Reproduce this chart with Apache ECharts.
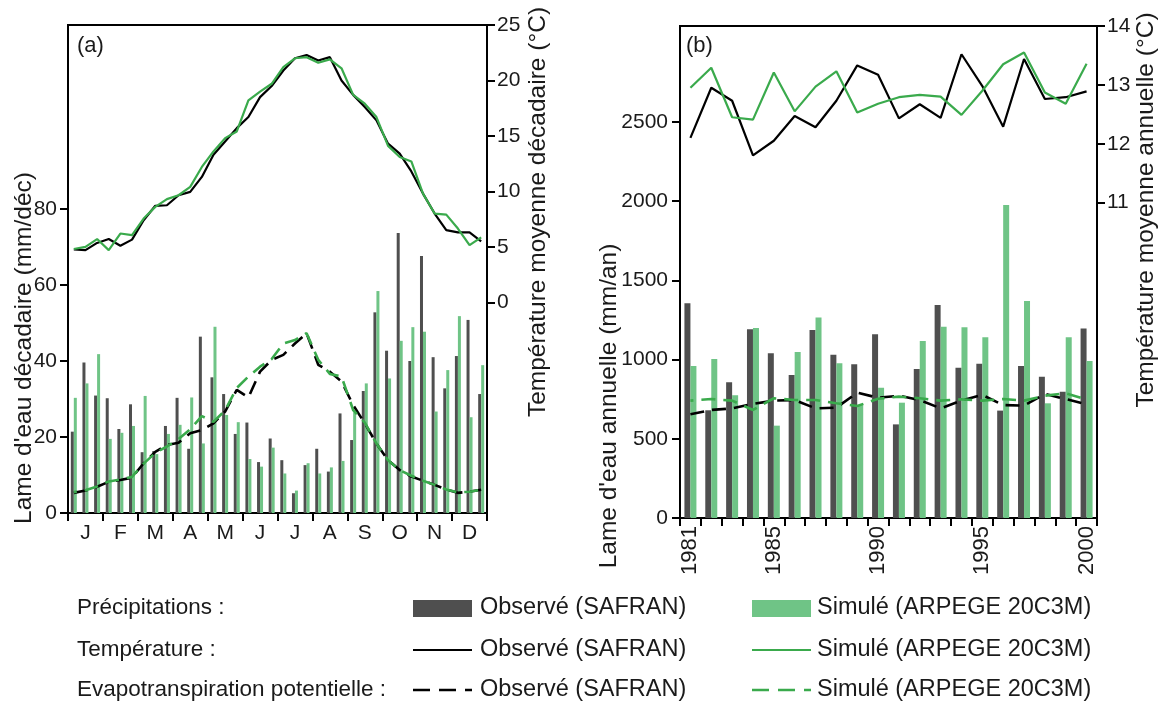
<!DOCTYPE html>
<html><head><meta charset="utf-8">
<script src="https://cdn.jsdelivr.net/npm/echarts@6/dist/echarts.min.js"></script>
<style>html,body{margin:0;padding:0;background:#fff}#c{width:1162px;height:702px}</style>
</head><body><div id="c"></div>
<script>
// ---------- Panel (a): dekadal values ----------
const months = ['J','F','M','A','M','J','J','A','S','O','N','D'];
const precipObsA = [21.4, 39.6, 30.9, 30.2, 22.1, 28.6, 16.0, 16.3, 22.9, 30.3, 16.9, 46.4, 35.7, 31.3, 20.8, 23.8, 13.4, 19.6, 13.9, 5.2, 12.6, 16.9, 10.9, 26.2, 19.2, 32.1, 52.8, 42.7, 73.7, 40.0, 67.6, 41.0, 32.8, 41.3, 50.8, 31.3];
const precipSimA = [30.3, 34.1, 41.8, 19.5, 21.1, 22.9, 30.8, 15.5, 20.8, 23.2, 30.4, 18.3, 49.0, 25.8, 23.9, 14.2, 12.2, 17.2, 10.4, 5.9, 13.1, 10.4, 12.0, 13.7, 26.5, 34.1, 58.4, 35.4, 45.3, 48.9, 47.7, 26.7, 37.6, 51.8, 25.2, 38.9];
const tempObsA = [4.76, 4.7, 5.35, 5.7, 5.1, 5.65, 7.4, 8.7, 8.75, 9.65, 9.95, 11.3, 13.3, 14.5, 15.7, 16.7, 18.5, 19.5, 20.9, 22.0, 22.3, 21.8, 22.1, 20.0, 18.7, 17.6, 16.4, 14.3, 13.4, 11.8, 9.8, 8.0, 6.5, 6.3, 6.3, 5.5];
const tempSimA = [4.8, 5.0, 5.7, 4.7, 6.2, 6.05, 7.55, 8.6, 9.3, 9.65, 10.4, 12.2, 13.6, 14.8, 15.4, 18.2, 19.0, 19.7, 21.2, 22.0, 22.1, 21.6, 21.9, 21.1, 18.7, 17.9, 16.7, 14.1, 13.1, 12.7, 9.8, 8.0, 7.9, 6.65, 5.15, 5.85];
const etpObsA = [5.3, 5.9, 6.9, 8.2, 8.7, 9.3, 13.1, 16.1, 17.9, 18.5, 21.0, 21.8, 23.6, 26.7, 32.4, 30.4, 37.2, 40.3, 41.6, 44.6, 47.3, 39.0, 37.2, 34.6, 28.4, 23.6, 18.3, 13.9, 11.3, 9.6, 8.5, 7.4, 6.2, 5.3, 5.6, 6.1];
const etpSimA = [5.5, 6.0, 7.0, 8.3, 8.8, 9.5, 13.0, 15.8, 17.5, 19.5, 22.0, 25.5, 24.0, 27.0, 32.9, 35.9, 38.5, 40.5, 44.6, 45.5, 47.3, 40.3, 36.6, 35.9, 27.1, 23.8, 18.3, 13.9, 11.3, 9.8, 8.5, 7.4, 6.2, 5.4, 5.6, 6.1];
const precipTicksA = [0, 20, 40, 60, 80];
const tempTicksA = [0, 5, 10, 15, 20, 25];

// ---------- Panel (b): annual values ----------
const years = ['1981','1982','1983','1984','1985','1986','1987','1988','1989','1990','1991','1992','1993','1994','1995','1996','1997','1998','1999','2000'];
const yearLabels = ['1981','1985','1990','1995','2000'];
const precipObsB = [1355, 680, 857, 1191, 1040, 903, 1187, 1031, 970, 1160, 591, 941, 1345, 949, 974, 678, 960, 892, 797, 1197];
const precipSimB = [960, 1004, 775, 1199, 583, 1048, 1265, 977, 713, 823, 728, 1117, 1208, 1204, 1141, 1976, 1370, 724, 1141, 991];
const etpObsB = [655, 682, 692, 720, 741, 745, 692, 697, 791, 759, 772, 745, 692, 741, 777, 713, 709, 783, 751, 718];
const etpSimB = [741, 751, 741, 682, 756, 745, 745, 724, 707, 753, 766, 756, 741, 749, 741, 751, 741, 772, 787, 749];
const tempObsB = [12.10, 12.95, 12.73, 11.80, 12.05, 12.47, 12.28, 12.73, 13.33, 13.17, 12.43, 12.67, 12.44, 13.52, 12.98, 12.29, 13.44, 12.76, 12.79, 12.89];
const tempSimB = [12.95, 13.29, 12.45, 12.41, 13.21, 12.55, 12.97, 13.23, 12.53, 12.68, 12.79, 12.83, 12.80, 12.49, 12.90, 13.35, 13.55, 12.87, 12.68, 13.36];
const precipTicksB = [0, 500, 1000, 1500, 2000, 2500];
const tempTicksB = [11, 12, 13, 14];

// ---------- build ----------
const dekads = [];
months.forEach((m, i) => { for (let d = 1; d <= 3; d++) dekads.push(m + '|' + (i + 1) + '-' + d); });

const FONT = '"Liberation Sans", Arial, sans-serif';
const TXT = '#1a1a1a';
const DARK = '#4f4f4f';
const GREENBAR = '#6fc486';
const GREENLINE = '#3aaa4c';

const axisLine = { show: true, lineStyle: { color: '#000', width: 2 } };
const axisTick = (vals) => ({ show: true, length: 8, lineStyle: { color: '#000', width: 2 }, customValues: vals });
const lbl = { color: TXT, fontFamily: FONT, fontSize: 21, formatter: (v) => String(v) };

function barS(name, x, y, data, color, w) {
  return { name, type: 'bar', xAxisIndex: x, yAxisIndex: y, data, barWidth: w, barGap: '0%',
    itemStyle: { color }, z: 2, silent: true };
}
function lineS(name, x, y, data, color, dashed, off) {
  return { name, type: 'line', xAxisIndex: x, yAxisIndex: y, data, symbol: 'none', showSymbol: false,
    lineStyle: dashed ? { color, width: 2.6, type: [14, 8], dashOffset: off || 0 } : { color, width: 2.2 },
    z: dashed ? 4 : 5, silent: true };
}

const rowY = [608, 650, 690];
const legendGraphics = [];
const rowNames = ['Précipitations :', 'Température :', 'Evapotranspiration potentielle :'];
rowNames.forEach((t, i) => legendGraphics.push({ type: 'text', x: 77, y: rowY[i],
  style: { text: t, font: '22.5px ' + FONT, fill: TXT, textVerticalAlign: 'middle' } }));
[[413, DARK, '#000', 480, 'Observé (SAFRAN)'], [752, GREENBAR, GREENLINE, 817, 'Simulé (ARPEGE 20C3M)']].forEach(([x0, bc, lc, tx, t]) => {
  legendGraphics.push({ type: 'rect', shape: { x: x0, y: 600, width: 59, height: 17 }, style: { fill: bc } });
  legendGraphics.push({ type: 'line', shape: { x1: x0, y1: rowY[1], x2: x0 + 59, y2: rowY[1] }, style: { stroke: lc, lineWidth: 2 } });
  legendGraphics.push({ type: 'line', shape: { x1: x0, y1: rowY[2], x2: x0 + 59, y2: rowY[2] }, style: { stroke: lc, lineWidth: 2.6, lineDash: [17, 9] } });
  rowY.forEach(yy => legendGraphics.push({ type: 'text', x: tx, y: yy,
    style: { text: t, font: '23.5px ' + FONT, fill: TXT, textVerticalAlign: 'middle' } }));
});
function vText(t, x, y) {
  return { type: 'text', x, y, rotation: Math.PI / 2,
    style: { text: t, font: '24.5px ' + FONT, fill: TXT, textAlign: 'center', textVerticalAlign: 'middle' } };
}

const option = {
  animation: false,
  backgroundColor: '#fff',
  grid: [
    { left: 68, top: 25, width: 419, height: 488, show: true, borderColor: '#000', borderWidth: 2, backgroundColor: 'transparent' },
    { left: 680, top: 26, width: 417, height: 492, show: true, borderColor: '#000', borderWidth: 2, backgroundColor: 'transparent' }
  ],
  xAxis: [
    { type: 'category', gridIndex: 0, data: dekads, boundaryGap: true, axisLine,
      axisTick: { show: true, length: 8, lineStyle: { color: '#000', width: 2 }, interval: (i) => i % 3 === 0 },
      axisLabel: Object.assign({}, lbl, { margin: 10, interval: (i) => i % 3 === 1, formatter: (v) => v.split('|')[0] }),
      splitLine: { show: false } },
    { type: 'category', gridIndex: 1, data: years, boundaryGap: true, axisLine,
      axisTick: { show: true, length: 8, lineStyle: { color: '#000', width: 2 }, interval: 0 },
      axisLabel: Object.assign({}, lbl, { fontSize: 22, margin: 8, rotate: 90, interval: (i, v) => yearLabels.indexOf(v) >= 0 }),
      splitLine: { show: false } }
  ],
  yAxis: [
    { type: 'value', gridIndex: 0, position: 'left', min: 0, max: 128.4, axisLine,
      axisTick: axisTick(precipTicksA), axisLabel: Object.assign({}, lbl, { margin: 11, customValues: precipTicksA }), splitLine: { show: false } },
    { type: 'value', gridIndex: 0, position: 'right', min: -19, max: 25, axisLine,
      axisTick: axisTick(tempTicksA), axisLabel: Object.assign({}, lbl, { margin: 10, customValues: tempTicksA }), splitLine: { show: false } },
    { type: 'value', gridIndex: 1, position: 'left', min: 0, max: 3106, axisLine,
      axisTick: axisTick(precipTicksB), axisLabel: Object.assign({}, lbl, { margin: 12, customValues: precipTicksB }), splitLine: { show: false } },
    { type: 'value', gridIndex: 1, position: 'right', min: 5.64, max: 14, axisLine,
      axisTick: axisTick(tempTicksB), axisLabel: Object.assign({}, lbl, { margin: 10, customValues: tempTicksB }), splitLine: { show: false } }
  ],
  series: [
    barS('Précipitations observées (SAFRAN)', 0, 0, precipObsA, DARK, 3),
    barS('Précipitations simulées (ARPEGE 20C3M)', 0, 0, precipSimA, GREENBAR, 3),
    lineS('ETP observée (SAFRAN)', 0, 0, etpObsA, '#000', true, 0),
    lineS('ETP simulée (ARPEGE 20C3M)', 0, 0, etpSimA, GREENLINE, true, 11),
    lineS('Température observée (SAFRAN)', 0, 1, tempObsA, '#000', false),
    lineS('Température simulée (ARPEGE 20C3M)', 0, 1, tempSimA, GREENLINE, false),
    barS('Précipitations observées (SAFRAN)', 1, 2, precipObsB, DARK, 6),
    barS('Précipitations simulées (ARPEGE 20C3M)', 1, 2, precipSimB, GREENBAR, 6),
    lineS('ETP observée (SAFRAN)', 1, 2, etpObsB, '#000', true, 0),
    lineS('ETP simulée (ARPEGE 20C3M)', 1, 2, etpSimB, GREENLINE, true, 11),
    lineS('Température observée (SAFRAN)', 1, 3, tempObsB, '#000', false),
    lineS('Température simulée (ARPEGE 20C3M)', 1, 3, tempSimB, GREENLINE, false)
  ],
  graphic: [
    { type: 'text', x: 77, y: 46, style: { text: '(a)', font: '22px ' + FONT, fill: TXT, textVerticalAlign: 'middle' } },
    { type: 'text', x: 686, y: 46, style: { text: '(b)', font: '22px ' + FONT, fill: TXT, textVerticalAlign: 'middle' } },
    vText("Lame d'eau décadaire (mm/déc)", 24, 348),
    vText('Température moyenne décadaire (°C)', 538, 212),
    vText("Lame d'eau annuelle (mm/an)", 609, 406),
    vText('Température moyenne annuelle (°C)', 1146, 210)
  ].concat(legendGraphics)
};
const chart = echarts.init(document.getElementById('c'), null, { renderer: 'canvas' });
chart.setOption(option);
</script>
</body></html>
